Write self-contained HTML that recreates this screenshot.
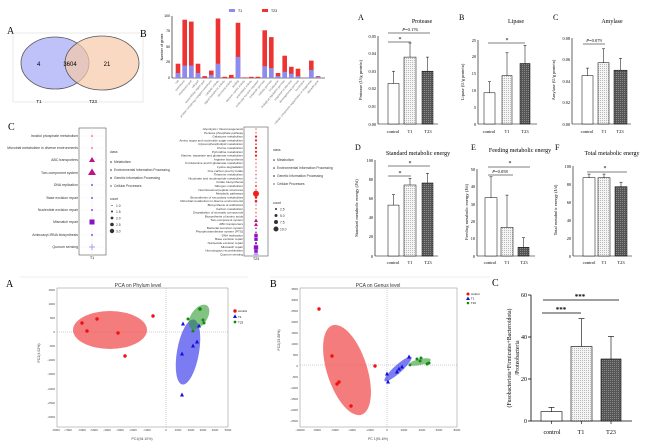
<!DOCTYPE html>
<html><head><meta charset="utf-8"><style>
html,body{margin:0;padding:0;background:#fff;}
svg{display:block;}
.s{font-family:"Liberation Serif",serif;}
.a{font-family:"Liberation Sans",sans-serif;}
</style></head><body>
<svg width="650" height="448" viewBox="0 0 650 448" xmlns="http://www.w3.org/2000/svg">
<defs>
<pattern id="dot" width="2" height="2" patternUnits="userSpaceOnUse"><rect width="2" height="2" fill="#f4f4f4"/><rect width="1" height="1" fill="#bbb"/></pattern>
<pattern id="hatch" width="2" height="2" patternUnits="userSpaceOnUse"><rect width="2" height="2" fill="#555"/><rect width="1" height="1" fill="#888"/></pattern>
</defs>

<!-- Venn A -->
<g class="s">
<text x="7" y="34" font-size="10">A</text>
<rect x="13" y="33" width="130" height="69" fill="none" stroke="#ddd" stroke-width="0.6"/>
<ellipse cx="55" cy="63" rx="34" ry="26" fill="#a8aef5" fill-opacity="0.75" stroke="#555" stroke-width="0.8"/>
<ellipse cx="102" cy="63" rx="37" ry="27" fill="#f6c9a8" fill-opacity="0.7" stroke="#555" stroke-width="0.8"/>
<text x="37" y="66" font-size="6" class="a">4</text>
<text x="70" y="66" font-size="6" text-anchor="middle" class="a">3604</text>
<text x="107" y="66" font-size="6" text-anchor="middle" class="a">21</text>
<text x="39" y="103" font-size="4.5" text-anchor="middle" class="a">T1</text>
<text x="93" y="103" font-size="4.5" text-anchor="middle" class="a">T23</text>
<text x="140" y="37" font-size="10">B</text>
</g>

<!-- B stacked bars -->
<g class="a">
<rect x="229" y="9" width="6" height="3" fill="#8c8cf0"/><text x="238" y="12" font-size="3.5">T1</text>
<rect x="262" y="9" width="6" height="3" fill="#ee3333"/><text x="271" y="12" font-size="3.5">T23</text>
<line x1="172" y1="16" x2="172" y2="78" stroke="#000" stroke-width="0.6"/>
<line x1="172" y1="78" x2="325" y2="78" stroke="#000" stroke-width="0.6"/>
<g font-size="3.5" text-anchor="end">
<text x="170" y="17">100</text><text x="170" y="32">75</text><text x="170" y="48">50</text><text x="170" y="63">25</text><text x="170" y="79">0</text></g>
<text transform="translate(163,47) rotate(-90)" font-size="3.5" text-anchor="middle">Number of genes</text>
<g fill="#ee3333">
<rect x="175.7" y="63.7" width="4.6" height="14.3"/><rect x="182.4" y="19.7" width="4.6" height="58.3"/><rect x="189" y="21.6" width="4.6" height="56.4"/><rect x="195.7" y="63.7" width="4.6" height="14.3"/><rect x="202.4" y="76.1" width="4.6" height="1.9"/><rect x="209" y="70.6" width="4.6" height="7.4"/><rect x="215.7" y="18.5" width="4.6" height="59.5"/><rect x="222.4" y="76.8" width="4.6" height="1.2"/><rect x="229" y="74.9" width="4.6" height="3.1"/><rect x="235.7" y="22.8" width="4.6" height="55.2"/><rect x="242.4" y="77.4" width="4.6" height="0.6"/><rect x="249" y="76.8" width="4.6" height="1.2"/><rect x="255.7" y="76.8" width="4.6" height="1.2"/><rect x="262.4" y="30.3" width="4.6" height="47.7"/><rect x="269" y="37.1" width="4.6" height="40.9"/><rect x="275.7" y="73" width="4.6" height="5"/><rect x="282.4" y="55.7" width="4.6" height="22.3"/><rect x="289" y="66.8" width="4.6" height="11.2"/><rect x="295.7" y="68.7" width="4.6" height="9.3"/><rect x="309" y="60.6" width="4.6" height="17.4"/><rect x="315.7" y="76.1" width="4.6" height="1.9"/>
</g>
<g fill="#8c8cf0">
<rect x="175.7" y="73" width="4.6" height="5"/><rect x="182.4" y="65.6" width="4.6" height="12.4"/><rect x="189" y="65.6" width="4.6" height="12.4"/><rect x="195.7" y="73" width="4.6" height="5"/><rect x="209" y="74.9" width="4.6" height="3.1"/><rect x="215.7" y="63.7" width="4.6" height="14.3"/><rect x="235.7" y="56.9" width="4.6" height="21.1"/><rect x="262.4" y="66.2" width="4.6" height="11.8"/><rect x="269" y="68.1" width="4.6" height="9.9"/><rect x="275.7" y="76.1" width="4.6" height="1.9"/><rect x="282.4" y="71.8" width="4.6" height="6.2"/><rect x="289" y="73.7" width="4.6" height="4.3"/><rect x="295.7" y="76.1" width="4.6" height="1.9"/><rect x="309" y="69.9" width="4.6" height="8.1"/><rect x="315.7" y="76.8" width="4.6" height="1.2"/>
</g>
<g font-size="2.8" fill="#666" text-anchor="end">
<text transform="translate(179,81) rotate(-50)">cell</text>
<text transform="translate(185,81) rotate(-50)">membrane</text>
<text transform="translate(192,81) rotate(-50)">membrane part</text>
<text transform="translate(199,81) rotate(-50)">cell part</text>
<text transform="translate(205,81) rotate(-50)">extracellular region part</text>
<text transform="translate(212,81) rotate(-50)">protein-containing complex membrane</text>
<text transform="translate(219,81) rotate(-50)">catalytic activity</text>
<text transform="translate(225,81) rotate(-50)">signal transducer activity</text>
<text transform="translate(232,81) rotate(-50)">structural activity</text>
<text transform="translate(239,81) rotate(-50)">binding</text>
<text transform="translate(245,81) rotate(-50)">electron carrier activity</text>
<text transform="translate(252,81) rotate(-50)">antioxidant activity</text>
<text transform="translate(259,81) rotate(-50)">molecular function regulator</text>
<text transform="translate(265,81) rotate(-50)">metabolic process</text>
<text transform="translate(272,81) rotate(-50)">cellular process</text>
<text transform="translate(279,81) rotate(-50)">localization</text>
<text transform="translate(285,81) rotate(-50)">biological regulation process</text>
<text transform="translate(292,81) rotate(-50)">response to stimulus</text>
<text transform="translate(299,81) rotate(-50)">developmental process</text>
<text transform="translate(305,81) rotate(-50)">locomotion</text>
<text transform="translate(312,81) rotate(-50)">cellular component organization or biogenesis</text>
<text transform="translate(319,81) rotate(-50)">detoxification</text>
</g>
</g>

<!-- C dotplots -->
<g class="a">
<text x="8" y="130" font-size="10" class="s">C</text>
<rect x="79" y="128" width="27" height="127" fill="none" stroke="#555" stroke-width="0.6"/>
<line x1="92" y1="128" x2="92" y2="255" stroke="#e6e6e6" stroke-width="0.5"/>
<g stroke="#eee" stroke-width="0.4">
<line x1="79" y1="136" x2="106" y2="136"/><line x1="79" y1="148" x2="106" y2="148"/><line x1="79" y1="160" x2="106" y2="160"/><line x1="79" y1="173" x2="106" y2="173"/><line x1="79" y1="185" x2="106" y2="185"/><line x1="79" y1="198" x2="106" y2="198"/><line x1="79" y1="210" x2="106" y2="210"/><line x1="79" y1="222" x2="106" y2="222"/><line x1="79" y1="235" x2="106" y2="235"/><line x1="79" y1="247" x2="106" y2="247"/></g>
<g font-size="3.5" text-anchor="end" fill="#333">
<text x="78" y="137">Inositol phosphate metabolism</text>
<text x="78" y="149">Microbial metabolism in diverse environments</text>
<text x="78" y="161">ABC transporters</text>
<text x="78" y="174">Two-component system</text>
<text x="78" y="186">DNA replication</text>
<text x="78" y="199">Base excision repair</text>
<text x="78" y="211">Nucleotide excision repair</text>
<text x="78" y="223">Mismatch repair</text>
<text x="78" y="236">Aminoacyl-tRNA biosynthesis</text>
<text x="78" y="248">Quorum sensing</text></g>
<circle cx="92" cy="136" r="0.8" fill="#f04040"/>
<circle cx="92" cy="148" r="0.8" fill="#f04040"/>
<polygon points="92,157 95,162 89,162" fill="#c0108a"/>
<polygon points="92,168.5 96,175 88,175" fill="#c0108a"/>
<rect x="91.2" y="184.2" width="1.6" height="1.6" fill="#8a2be2"/>
<rect x="91.2" y="197.2" width="1.6" height="1.6" fill="#8a2be2"/>
<rect x="91.2" y="209.2" width="1.6" height="1.6" fill="#8a2be2"/>
<rect x="89.5" y="219.5" width="5" height="5" fill="#8a10c8"/>
<rect x="91.2" y="234.2" width="1.6" height="1.6" fill="#8a2be2"/>
<path d="M89 247h6M92 244v6" stroke="#a89cf0" stroke-width="1"/>
<text x="92" y="259" font-size="3.5" text-anchor="middle">T1</text>
<g font-size="3.3" fill="#333">
<text x="110" y="153">class</text>
<circle cx="111" cy="162" r="0.8"/><text x="114" y="163">Metabolism</text>
<circle cx="111" cy="170" r="0.8"/><text x="114" y="171">Environmental Information Processing</text>
<rect x="110.3" y="177.3" width="1.4" height="1.4"/><text x="114" y="179">Genetic Information Processing</text>
<path d="M110 186h2M111 185v2" stroke="#333" stroke-width="0.4"/><text x="114" y="187">Cellular Processes</text>
<text x="110" y="200">count</text>
<circle cx="112" cy="205.5" r="0.6"/><text x="116" y="207">1.0</text>
<circle cx="112" cy="211.5" r="1"/><text x="116" y="213">1.5</text>
<circle cx="112" cy="218" r="1.4"/><text x="116" y="219.5">2.0</text>
<circle cx="112" cy="224.5" r="1.8"/><text x="116" y="226">2.5</text>
<circle cx="112" cy="231" r="2.2"/><text x="116" y="232.5">3.0</text>
</g>

<rect x="244" y="127" width="24" height="129" fill="none" stroke="#555" stroke-width="0.6"/>
<line x1="256" y1="127" x2="256" y2="256" stroke="#e6e6e6" stroke-width="0.5"/>
<g font-size="3.1" text-anchor="end" fill="#333">
<text x="243" y="130">Glycolysis / Gluconeogenesis</text>
<text x="243" y="133.8">Pentose phosphate pathway</text>
<text x="243" y="137.6">Galactose metabolism</text>
<text x="243" y="141.4">Amino sugar and nucleotide sugar metabolism</text>
<text x="243" y="145.2">Glycerophospholipid metabolism</text>
<text x="243" y="149">Purine metabolism</text>
<text x="243" y="152.8">Pyrimidine metabolism</text>
<text x="243" y="156.6">Alanine, aspartate and glutamate metabolism</text>
<text x="243" y="160.4">Arginine biosynthesis</text>
<text x="243" y="164.2">D-Glutamine and D-glutamate metabolism</text>
<text x="243" y="168">Lysine degradation</text>
<text x="243" y="171.8">One carbon pool by folate</text>
<text x="243" y="175.6">Thiamine metabolism</text>
<text x="243" y="179.4">Nicotinate and nicotinamide metabolism</text>
<text x="243" y="183.2">Folate biosynthesis</text>
<text x="243" y="187">Nitrogen metabolism</text>
<text x="243" y="190.8">Nonribosomal peptide structures</text>
<text x="243" y="194.6">Metabolic pathways</text>
<text x="243" y="198.4">Biosynthesis of secondary metabolites</text>
<text x="243" y="202.2">Microbial metabolism in diverse environments</text>
<text x="243" y="206">Biosynthesis of antibiotics</text>
<text x="243" y="209.8">Carbon metabolism</text>
<text x="243" y="213.6">Degradation of aromatic compounds</text>
<text x="243" y="217.4">Biosynthesis of amino acids</text>
<text x="243" y="221.2">Two-component system</text>
<text x="243" y="225">ABC transporters</text>
<text x="243" y="228.8">Bacterial secretion system</text>
<text x="243" y="232.6">Phosphotransferase system (PTS)</text>
<text x="243" y="236.4">DNA replication</text>
<text x="243" y="240.2">Base excision repair</text>
<text x="243" y="244">Nucleotide excision repair</text>
<text x="243" y="247.8">Mismatch repair</text>
<text x="243" y="251.6">Homologous recombination</text>
<text x="243" y="255.4">Quorum sensing</text></g>
<g fill="#f02020">
<circle cx="256" cy="129" r="0.6"/><circle cx="256" cy="132.8" r="0.6"/><circle cx="256" cy="136.6" r="1.1"/><circle cx="256" cy="140.4" r="1.1"/><circle cx="256" cy="144.2" r="0.8"/><circle cx="256" cy="148" r="1.1"/><circle cx="256" cy="151.8" r="1.1"/><circle cx="256" cy="155.6" r="1.1"/><circle cx="256" cy="159.4" r="0.6"/><circle cx="256" cy="163.2" r="0.6"/><circle cx="256" cy="167" r="0.6"/><circle cx="256" cy="170.8" r="0.6"/><circle cx="256" cy="174.6" r="0.6"/><circle cx="256" cy="178.4" r="0.6"/><circle cx="256" cy="182.2" r="0.6"/><circle cx="256" cy="186" r="0.9"/><circle cx="256" cy="189.8" r="0.6"/><circle cx="256" cy="193.6" r="3"/><circle cx="256" cy="197.4" r="1.3"/><circle cx="256" cy="201.2" r="1.3"/><circle cx="256" cy="205" r="0.6"/><circle cx="256" cy="208.8" r="0.6"/><circle cx="256" cy="212.6" r="0.6"/><circle cx="256" cy="216.4" r="0.6"/></g>
<polygon points="256,218.5 258,222 254,222" fill="#c0108a"/>
<polygon points="256,222.5 258,226 254,226" fill="#c0108a"/>
<polygon points="256,227 257,229 255,229" fill="#c0108a"/>
<polygon points="256,231 257,233 255,233" fill="#c0108a"/>
<g fill="#8a10c8"><rect x="254.3" y="233.7" width="3.4" height="3.4"/><rect x="254.3" y="237.5" width="3.4" height="3.4"/><rect x="255" y="242.3" width="2" height="2"/><rect x="253.8" y="245.3" width="4.4" height="4.4"/><rect x="254.3" y="249.9" width="3.4" height="3.4"/></g>
<path d="M253.5 254.4h5M256 252v5" stroke="#a89cf0" stroke-width="1"/>
<text x="256" y="260" font-size="3.5" text-anchor="middle">T23</text>
<g font-size="3.3" fill="#333">
<text x="273" y="151">class</text>
<circle cx="274" cy="160" r="0.8"/><text x="277" y="161">Metabolism</text>
<circle cx="274" cy="168" r="0.8"/><text x="277" y="169">Environmental Information Processing</text>
<rect x="273.3" y="175.3" width="1.4" height="1.4"/><text x="277" y="177">Genetic Information Processing</text>
<path d="M273 184h2M274 183v2" stroke="#333" stroke-width="0.4"/><text x="277" y="185">Cellular Processes</text>
<text x="273" y="204">count</text>
<circle cx="276" cy="209" r="1"/><text x="280" y="210.5">2.5</text>
<circle cx="276" cy="215.5" r="1.5"/><text x="280" y="217">5.0</text>
<circle cx="276" cy="222" r="2"/><text x="280" y="223.5">7.5</text>
<circle cx="276" cy="229" r="2.5"/><text x="280" y="230.5">10.0</text>
</g>
</g>

<!-- Top right bar charts -->
<g class="s" stroke-linecap="butt">
<!-- Protease -->
<text x="358" y="20" font-size="8">A</text>
<text x="422" y="23" font-size="6" text-anchor="middle">Protease</text>
<line x1="378" y1="36" x2="378" y2="124" stroke="#000" stroke-width="0.6"/>
<line x1="378" y1="124" x2="438" y2="124" stroke="#000" stroke-width="0.6"/>
<g font-size="4.3" text-anchor="end"><text x="376" y="38">0.05</text><text x="376" y="55">0.04</text><text x="376" y="73">0.03</text><text x="376" y="90">0.02</text><text x="376" y="108">0.01</text><text x="376" y="126">0.00</text></g>
<text transform="translate(362,80) rotate(-90)" font-size="4.5" text-anchor="middle">Protease (U/g protein)</text>
<rect x="388" y="83.5" width="11" height="40.5" fill="#fff" stroke="#000" stroke-width="0.5"/>
<rect x="404" y="57.1" width="12" height="66.9" fill="url(#dot)" stroke="#000" stroke-width="0.5"/>
<rect x="422" y="71.2" width="11" height="52.8" fill="url(#hatch)" stroke="#000" stroke-width="0.5"/>
<path d="M393.5 83.5V71.2M392 71.2h3M410 57.1V43M408.5 43h3M427.5 71.2V57.1M426 57.1h3" stroke="#000" stroke-width="0.5"/>
<path d="M388 33H430M388 42H411" stroke="#000" stroke-width="0.5"/>
<text x="410" y="31" font-size="4.5" text-anchor="middle"><tspan font-style="italic">P</tspan>=0.176</text>
<text x="400" y="41" font-size="6" text-anchor="middle">*</text>
<g font-size="4.5" text-anchor="middle"><text x="393" y="133">control</text><text x="410" y="133">T1</text><text x="428" y="133">T23</text></g>
<!-- Lipase -->
<text x="459" y="20" font-size="8">B</text>
<text x="516" y="23" font-size="6" text-anchor="middle">Lipase</text>
<line x1="478" y1="40" x2="478" y2="124" stroke="#000" stroke-width="0.6"/>
<line x1="478" y1="124" x2="537" y2="124" stroke="#000" stroke-width="0.6"/>
<g font-size="4.3" text-anchor="end"><text x="476" y="42">25</text><text x="476" y="58">20</text><text x="476" y="75">15</text><text x="476" y="92">10</text><text x="476" y="109">5</text><text x="476" y="126">0</text></g>
<text transform="translate(464,82) rotate(-90)" font-size="4.5" text-anchor="middle">Lipase (U/g protein)</text>
<rect x="484" y="92.8" width="11" height="31.2" fill="#fff" stroke="#000" stroke-width="0.5"/>
<rect x="502" y="75.6" width="10" height="48.4" fill="url(#dot)" stroke="#000" stroke-width="0.5"/>
<rect x="520" y="63.5" width="10" height="60.5" fill="url(#hatch)" stroke="#000" stroke-width="0.5"/>
<path d="M489.5 92.8V81.7M488 81.7h3M507 75.6V52.8M505.5 52.8h3M525 63.5V45.4M523.5 45.4h3" stroke="#000" stroke-width="0.5"/>
<path d="M488 43H525" stroke="#000" stroke-width="0.5"/>
<text x="507" y="42" font-size="6" text-anchor="middle">*</text>
<g font-size="4.5" text-anchor="middle"><text x="489" y="133">control</text><text x="507" y="133">T1</text><text x="525" y="133">T23</text></g>
<!-- Amylase -->
<text x="553" y="20" font-size="8">C</text>
<text x="612" y="23" font-size="6" text-anchor="middle">Amylase</text>
<line x1="572" y1="38" x2="572" y2="124" stroke="#000" stroke-width="0.6"/>
<line x1="572" y1="124" x2="631" y2="124" stroke="#000" stroke-width="0.6"/>
<g font-size="4.3" text-anchor="end"><text x="570" y="40">0.08</text><text x="570" y="61">0.06</text><text x="570" y="83">0.04</text><text x="570" y="104">0.02</text><text x="570" y="126">0.00</text></g>
<text transform="translate(555,80) rotate(-90)" font-size="4.5" text-anchor="middle">Amylase (U/g protein)</text>
<rect x="582" y="75.6" width="11" height="48.4" fill="#fff" stroke="#000" stroke-width="0.5"/>
<rect x="598" y="62.7" width="11" height="61.3" fill="url(#dot)" stroke="#000" stroke-width="0.5"/>
<rect x="614" y="70.2" width="13" height="53.8" fill="url(#hatch)" stroke="#000" stroke-width="0.5"/>
<path d="M587.5 75.6V68.1M586 68.1h3M603.5 62.7V48.8M602 48.8h3M620.5 70.2V58.4M619 58.4h3" stroke="#000" stroke-width="0.5"/>
<path d="M583 44H605" stroke="#000" stroke-width="0.5"/>
<text x="594" y="42" font-size="4.5" text-anchor="middle"><tspan font-style="italic">P</tspan>=0.079</text>
<g font-size="4.5" text-anchor="middle"><text x="587" y="133">control</text><text x="604" y="133">T1</text><text x="620" y="133">T23</text></g>

<!-- D -->
<text x="355" y="150" font-size="8">D</text>
<text x="418" y="155" font-size="6" text-anchor="middle">Standard metabolic energy</text>
<line x1="375" y1="160" x2="375" y2="256" stroke="#000" stroke-width="0.6"/>
<line x1="375" y1="256" x2="438" y2="256" stroke="#000" stroke-width="0.6"/>
<g font-size="4.3" text-anchor="end"><text x="373" y="162">100</text><text x="373" y="181">80</text><text x="373" y="200">60</text><text x="373" y="219">40</text><text x="373" y="238">20</text><text x="373" y="258">0</text></g>
<text transform="translate(358,208) rotate(-90)" font-size="4.5" text-anchor="middle">Standard metabolic energy (J/d)</text>
<rect x="388" y="205.1" width="11" height="50.9" fill="#fff" stroke="#000" stroke-width="0.5"/>
<rect x="404" y="185" width="12" height="71" fill="url(#dot)" stroke="#000" stroke-width="0.5"/>
<rect x="422" y="183" width="11" height="73" fill="url(#hatch)" stroke="#000" stroke-width="0.5"/>
<path d="M393.5 205.1V194.6M392 194.6h3M410 185V178.2M408.5 178.2h3M427.5 183V173.4M426 173.4h3" stroke="#000" stroke-width="0.5"/>
<path d="M388 166H430M388 176H411" stroke="#000" stroke-width="0.5"/>
<text x="410" y="165" font-size="6" text-anchor="middle">*</text>
<text x="400" y="175" font-size="6" text-anchor="middle">*</text>
<g font-size="4.5" text-anchor="middle"><text x="393" y="264">control</text><text x="410" y="264">T1</text><text x="428" y="264">T23</text></g>
<!-- E -->
<text x="471" y="150" font-size="8">E</text>
<text x="520" y="152" font-size="6" text-anchor="middle">Feeding metabolic energy</text>
<line x1="477" y1="169" x2="477" y2="256" stroke="#000" stroke-width="0.6"/>
<line x1="477" y1="256" x2="535" y2="256" stroke="#000" stroke-width="0.6"/>
<g font-size="4.3" text-anchor="end"><text x="475" y="171">50</text><text x="475" y="188">40</text><text x="475" y="206">30</text><text x="475" y="223">20</text><text x="475" y="240">10</text><text x="475" y="258">0</text></g>
<text transform="translate(468,212) rotate(-90)" font-size="4.5" text-anchor="middle">Feeding metabolic energy (J/d)</text>
<rect x="485" y="197.7" width="12" height="58.3" fill="#fff" stroke="#000" stroke-width="0.5"/>
<rect x="501" y="227.3" width="12" height="28.7" fill="url(#dot)" stroke="#000" stroke-width="0.5"/>
<rect x="518" y="247.3" width="11" height="8.7" fill="url(#hatch)" stroke="#000" stroke-width="0.5"/>
<path d="M491 197.7V176.8M489.5 176.8h3M507 227.3V195.1M505.5 195.1h3M523.5 247.3V237.7M522 237.7h3" stroke="#000" stroke-width="0.5"/>
<path d="M488 167H530M488 175H513" stroke="#000" stroke-width="0.5"/>
<text x="510" y="165" font-size="6" text-anchor="middle">*</text>
<text x="500" y="173" font-size="4.5" text-anchor="middle"><tspan font-style="italic">P</tspan>=0.058</text>
<g font-size="4.5" text-anchor="middle"><text x="490" y="264">control</text><text x="507" y="264">T1</text><text x="524" y="264">T23</text></g>
<!-- F -->
<text x="555" y="150" font-size="8">F</text>
<text x="612" y="155" font-size="6" text-anchor="middle">Total metabolic energy</text>
<line x1="573" y1="166" x2="573" y2="256" stroke="#000" stroke-width="0.6"/>
<line x1="573" y1="256" x2="632" y2="256" stroke="#000" stroke-width="0.6"/>
<g font-size="4.3" text-anchor="end"><text x="571" y="168">100</text><text x="571" y="186">80</text><text x="571" y="204">60</text><text x="571" y="222">40</text><text x="571" y="240">20</text><text x="571" y="258">0</text></g>
<text transform="translate(557,210) rotate(-90)" font-size="4.5" text-anchor="middle">Total metabolic energy (J/d)</text>
<rect x="583" y="177.7" width="12" height="78.3" fill="#fff" stroke="#000" stroke-width="0.5"/>
<rect x="598" y="177.7" width="12" height="78.3" fill="url(#dot)" stroke="#000" stroke-width="0.5"/>
<rect x="615" y="186.7" width="12" height="69.3" fill="url(#hatch)" stroke="#000" stroke-width="0.5"/>
<path d="M589 177.7V174.1M587.5 174.1h3M604 177.7V174.1M602.5 174.1h3M621 186.7V182.2M619.5 182.2h3" stroke="#000" stroke-width="0.5"/>
<path d="M587 172H627" stroke="#000" stroke-width="0.5"/>
<text x="605" y="170" font-size="6" text-anchor="middle">*</text>
<g font-size="4.5" text-anchor="middle"><text x="589" y="264">control</text><text x="604" y="264">T1</text><text x="621" y="264">T23</text></g>
</g>

<!-- PCA A -->
<g class="a">
<line x1="20" y1="277" x2="248" y2="277" stroke="#ddd" stroke-width="0.6"/>
<text x="6" y="287" font-size="10" class="s">A</text>
<text x="138" y="287" font-size="5" text-anchor="middle" fill="#333">PCA on Phylum level</text>
<rect x="57" y="288" width="171" height="139" fill="none" stroke="#888" stroke-width="0.5"/>
<line x1="57" y1="332" x2="228" y2="332" stroke="#888" stroke-width="0.4" stroke-dasharray="1,1"/>
<line x1="166" y1="288" x2="166" y2="427" stroke="#888" stroke-width="0.4" stroke-dasharray="1,1"/>
<g font-size="3" text-anchor="end" fill="#444">
<text x="55" y="291">1500</text><text x="55" y="305">1000</text><text x="55" y="319">500</text><text x="55" y="333">0</text><text x="55" y="347">-500</text><text x="55" y="361">-1000</text><text x="55" y="375">-1500</text><text x="55" y="390">-2000</text><text x="55" y="404">-2500</text><text x="55" y="418">-3000</text></g>
<g font-size="3" text-anchor="middle" fill="#444">
<text x="56" y="431">-8000</text><text x="68" y="431">-7000</text><text x="82" y="431">-6000</text><text x="94" y="431">-5000</text><text x="107" y="431">-4000</text><text x="120" y="431">-3000</text><text x="133" y="431">-2000</text><text x="147" y="431">-1000</text><text x="166" y="431">0</text><text x="178" y="431">1000</text><text x="191" y="431">2000</text><text x="203" y="431">3000</text><text x="215" y="431">4000</text><text x="228" y="431">5000</text></g>
<text x="142" y="440" font-size="3.5" text-anchor="middle" fill="#444">PC1(94.10%)</text>
<text transform="translate(40,353) rotate(-90)" font-size="3.5" text-anchor="middle" fill="#444">PC2(4.02%)</text>
<ellipse cx="110" cy="330" rx="37" ry="19" fill="#f25050" fill-opacity="0.75"/>
<ellipse cx="188" cy="352" rx="11" ry="33" transform="rotate(10 188 352)" fill="#5050ee" fill-opacity="0.75"/>
<ellipse cx="199" cy="317" rx="8" ry="14" transform="rotate(35 199 317)" fill="#2e9a2e" fill-opacity="0.6"/>
<g fill="#ee1111"><circle cx="82" cy="323" r="1.7"/><circle cx="97" cy="319" r="1.7"/><circle cx="87" cy="331" r="1.7"/><circle cx="118" cy="333" r="1.7"/><circle cx="153" cy="316" r="1.7"/><circle cx="125" cy="356" r="1.7"/></g>
<g fill="#1010dd"><polygon points="183,321.5 185,325.5 181,325.5"/><polygon points="199,323.5 201,327.5 197,327.5"/><polygon points="197,339.5 199,343.5 195,343.5"/><polygon points="193,343.5 195,347.5 191,347.5"/><polygon points="182,351.5 184,355.5 180,355.5"/><polygon points="182,392.5 184,396.5 180,396.5"/></g>
<g fill="#128a12"><circle cx="188" cy="319" r="1.5"/><circle cx="200" cy="309" r="1.8"/><circle cx="193" cy="331" r="1.5"/><circle cx="203" cy="320" r="1.5"/><circle cx="204" cy="323" r="1.5"/></g>
<circle cx="235" cy="311" r="1.7" fill="#ee1111"/><text x="238" y="312" font-size="3">control</text>
<polygon points="235,314.3 237,318 233,318" fill="#1010dd"/><text x="238" y="318" font-size="3">T1</text>
<circle cx="235" cy="322" r="1.4" fill="#128a12"/><text x="238" y="323.5" font-size="3">T23</text>
</g>

<!-- PCA B -->
<g class="a">
<line x1="270" y1="277" x2="490" y2="277" stroke="#ddd" stroke-width="0.6"/>
<text x="270" y="287" font-size="10" class="s">B</text>
<text x="378" y="287" font-size="5" text-anchor="middle" fill="#333">PCA on Genus level</text>
<rect x="300" y="288" width="157" height="139" fill="none" stroke="#888" stroke-width="0.5"/>
<line x1="300" y1="365" x2="457" y2="365" stroke="#888" stroke-width="0.4" stroke-dasharray="1,1"/>
<line x1="387" y1="288" x2="387" y2="427" stroke="#888" stroke-width="0.4" stroke-dasharray="1,1"/>
<g font-size="3" text-anchor="end" fill="#444">
<text x="298" y="290">3500</text><text x="298" y="301">3000</text><text x="298" y="312">2500</text><text x="298" y="323">2000</text><text x="298" y="334">1500</text><text x="298" y="345">1000</text><text x="298" y="356">500</text><text x="298" y="367">0</text><text x="298" y="378">-500</text><text x="298" y="389">-1000</text><text x="298" y="400">-1500</text><text x="298" y="411">-2000</text><text x="298" y="422">-2500</text></g>
<g font-size="3" text-anchor="middle" fill="#444">
<text x="300" y="431">-10000</text><text x="317" y="431">-8000</text><text x="335" y="431">-6000</text><text x="352" y="431">-4000</text><text x="370" y="431">-2000</text><text x="387" y="431">0</text><text x="404" y="431">2000</text><text x="422" y="431">4000</text><text x="439" y="431">6000</text><text x="457" y="431">8000</text></g>
<text x="378" y="440" font-size="3.5" text-anchor="middle" fill="#444">PC 1(91.6%)</text>
<text transform="translate(280,340) rotate(-90)" font-size="3.5" text-anchor="middle" fill="#444">PC2(23.88%)</text>
<ellipse cx="347" cy="370" rx="20" ry="47" transform="rotate(-18 347 370)" fill="#f25050" fill-opacity="0.75"/>
<ellipse cx="398" cy="369" rx="18" ry="4" transform="rotate(-42 398 369)" fill="#5050ee" fill-opacity="0.75"/>
<ellipse cx="420" cy="362" rx="11" ry="3" transform="rotate(-12 420 362)" fill="#2e9a2e" fill-opacity="0.6"/>
<g fill="#ee1111"><circle cx="319" cy="309" r="1.7"/><circle cx="332" cy="356" r="1.7"/><circle cx="339" cy="382" r="1.7"/><circle cx="337" cy="384" r="1.7"/><circle cx="351" cy="406" r="1.7"/><circle cx="375" cy="366" r="1.7"/></g>
<g fill="#1010dd"><polygon points="387,371.5 389,375.5 385,375.5"/><polygon points="388,379.5 390,383.5 386,383.5"/><polygon points="397,369.5 399,373.5 395,373.5"/><polygon points="399,366.5 401,370.5 397,370.5"/><polygon points="409,354.5 411,358.5 407,358.5"/><polygon points="402,364.5 404,368.5 400,368.5"/></g>
<g fill="#128a12"><circle cx="410" cy="365" r="1.4"/><circle cx="417" cy="359" r="1.5"/><circle cx="420" cy="361" r="1.5"/><circle cx="421" cy="358" r="1.5"/><circle cx="427" cy="364" r="1.5"/><circle cx="429" cy="363" r="1.5"/></g>
<circle cx="468" cy="294" r="1.5" fill="#ee1111"/><text x="471" y="295" font-size="2.8">control</text>
<polygon points="468,296.5 470,300 466,300" fill="#1010dd"/><text x="471" y="299.5" font-size="2.8">T1</text>
<circle cx="468" cy="303" r="1.3" fill="#128a12"/><text x="471" y="304" font-size="2.8">T23</text>
</g>

<!-- C bottom right -->
<g class="s">
<text x="492" y="286" font-size="10">C</text>
<line x1="531" y1="295" x2="531" y2="421" stroke="#000" stroke-width="0.8"/>
<line x1="531" y1="421" x2="632" y2="421" stroke="#000" stroke-width="0.8"/>
<path d="M528 295h3M528 337h3M528 379h3M528 421h3" stroke="#000" stroke-width="0.7"/>
<g font-size="6" text-anchor="end"><text x="527" y="297">60</text><text x="527" y="339">40</text><text x="527" y="381">20</text><text x="527" y="423">0</text></g>
<text transform="translate(511,358) rotate(-90)" font-size="5.8" text-anchor="middle">(Fusobacteriota+Firmicutes+Bacteroidota)</text>
<text transform="translate(519,358) rotate(-90)" font-size="5.8" text-anchor="middle">/Proteobacteria</text>
<rect x="541" y="411.6" width="21" height="9.4" fill="#fff" stroke="#000" stroke-width="0.6"/>
<rect x="571" y="346.5" width="21" height="74.5" fill="url(#dot)" stroke="#000" stroke-width="0.6"/>
<rect x="601" y="359" width="20" height="62" fill="url(#hatch)" stroke="#000" stroke-width="0.6"/>
<path d="M551.5 411.6V407.4M548.5 407.4h6M581.5 346.5V318.7M578.5 318.7h6M611 359V336.4M608 336.4h6" stroke="#000" stroke-width="0.6"/>
<path d="M543 300H619M542 313H581" stroke="#000" stroke-width="0.8"/>
<text x="580" y="299" font-size="7" text-anchor="middle" font-weight="bold">***</text>
<text x="561" y="312" font-size="7" text-anchor="middle" font-weight="bold">***</text>
<path d="M551.5 421v3M581.5 421v3M611 421v3" stroke="#000" stroke-width="0.6"/>
<g font-size="6" text-anchor="middle"><text x="552" y="434">control</text><text x="581" y="434">T1</text><text x="611" y="434">T23</text></g>
</g>
</svg>
</body></html>
